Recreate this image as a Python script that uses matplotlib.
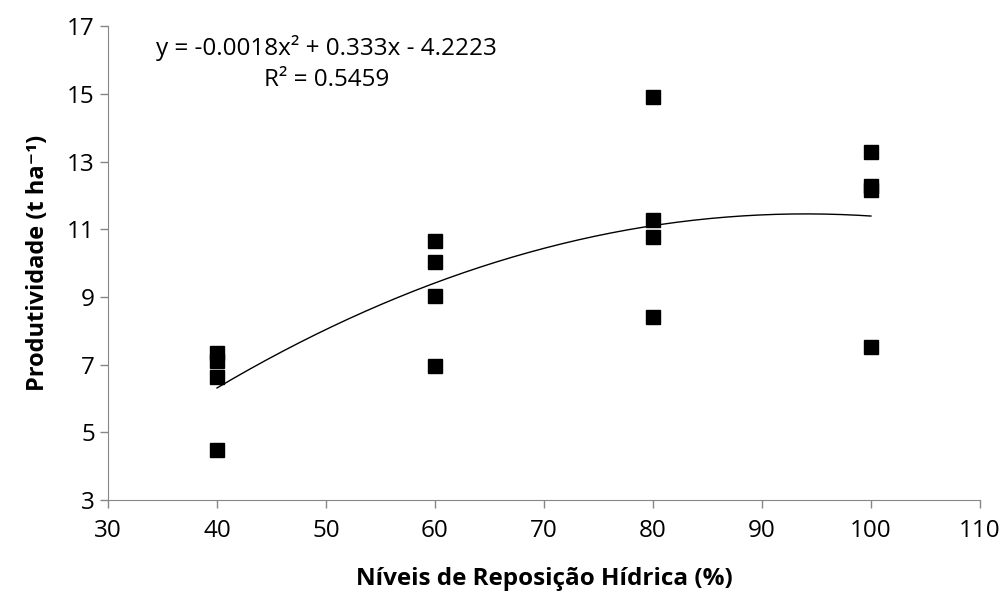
import numpy as np
import matplotlib.pyplot as plt

plt.rcParams["font.family"] = ["Open Sans", "DejaVu Sans"]

# reposicao hidrica (%) and produtividade (t/ha)
niveis = [40, 40, 40, 40, 60, 60, 60, 60, 80, 80, 80, 80, 100, 100, 100, 100]
produtividade = [7.33, 7.12, 6.62, 4.49,
                 10.66, 10.04, 9.04, 6.97,
                 14.90, 11.28, 10.78, 8.42,
                 13.28, 12.28, 12.16, 7.53]
equacao = "y = -0.0018x² + 0.333x - 4.2223"
r2_texto = "R² = 0.5459"

fig = plt.figure(figsize=(10.04, 5.97), dpi=100)
ax = fig.add_axes([0.1076, 0.1625, 0.8684, 0.7935])

ax.plot(niveis, produtividade, "s", color="black", markersize=9.5, zorder=3)

# second order trend line
coef = np.polyfit(niveis, produtividade, 2)
xs = np.linspace(min(niveis), max(niveis), 200)
ax.plot(xs, np.polyval(coef, xs), color="black", linewidth=1.0)

ax.set_xlim(30, 110)
ax.set_ylim(3, 17)
ax.set_xticks(range(30, 111, 10))
ax.set_yticks(range(3, 18, 2))

for side in ["top", "right"]:
    ax.spines[side].set_visible(False)
for side in ["left", "bottom"]:
    ax.spines[side].set_color("#868686")
ax.tick_params(axis="both", colors="#868686", labelcolor="black",
               labelsize=17.5, length=6, width=1)
ax.tick_params(axis="x", pad=8)

ax.set_xlabel("Níveis de Reposição Hídrica (%)", fontsize=17.5, fontweight="bold", labelpad=17)
ax.set_ylabel("Produtividade (t ha⁻¹)", fontsize=17, fontweight="bold", labelpad=12)

ax.text(0.251, 0.954, equacao, transform=ax.transAxes, ha="center", va="center", fontsize=17.5)
ax.text(0.251, 0.886, r2_texto, transform=ax.transAxes, ha="center", va="center", fontsize=17.5)

fig.savefig("out.png", dpi=100)
